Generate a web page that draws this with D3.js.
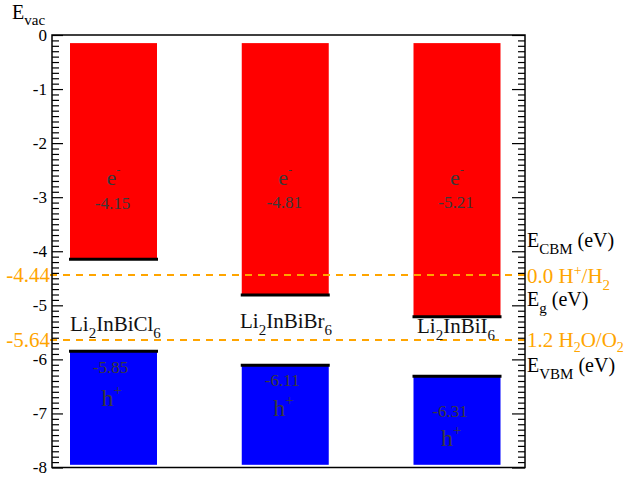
<!DOCTYPE html>
<html lang="en">
<head>
<meta charset="UTF-8">
<title>Band alignment</title>
<style>
  body { margin: 0; background: #fff; }
  .tick line { stroke: #000; stroke-width: 1.2; }
  .domain { display: none; }
</style>
</head>
<body>
<svg id="chart" width="631" height="481" font-family="Liberation Serif"></svg>
<script src="https://d3js.org/d3.v7.min.js"></script>
<script>
// data
const compounds = ['Li2InBiCl6', 'Li2InBiBr6', 'Li2InBiI6'];
const cbm = [-4.15, -4.81, -5.21];
const vbm = [-5.85, -6.11, -6.31];
const barTop = -0.15;
const barBottom = -7.95;
const redoxLevels = [-4.44, -5.64];
const redoxNames = ['0.0 H+/H2', '1.2 H2O/O2'];
const yTicks = [0, -1, -2, -3, -4, -5, -6, -7, -8];

const svg = d3.select('#chart');
const plotL = 52, plotR = 525, plotT = 35, plotB = 467.5;

const y = d3.scaleLinear().domain([-8, 0]).range([plotB, plotT]);
const x = d3.scaleLinear().domain([0, 2]).range([113.5, 457]);
const barW = 87;

const minor = d3.range(0, 81).map(i => -i / 10).filter(v => Math.abs(v - Math.round(v)) > 1e-6);

// red conduction blocks
svg.selectAll('.cb').data(cbm).join('rect')
    .attr('x', (d, i) => x(i) - barW / 2)
    .attr('y', y(barTop))
    .attr('width', barW)
    .attr('height', d => y(d) - y(barTop))
    .attr('fill', '#ff0000');

// blue valence blocks
svg.selectAll('.vb').data(vbm).join('rect')
    .attr('x', (d, i) => x(i) - barW / 2)
    .attr('y', d => y(d))
    .attr('width', barW)
    .attr('height', d => y(barBottom) - y(d))
    .attr('fill', '#0000ff');

// black edge lines
svg.selectAll('.edge').data(cbm.concat(vbm)).join('line')
    .attr('x1', (d, i) => x(i % 3) - barW / 2 - 1)
    .attr('x2', (d, i) => x(i % 3) + barW / 2 + 1)
    .attr('y1', d => y(d))
    .attr('y2', d => y(d))
    .attr('stroke', '#000')
    .attr('stroke-width', 3);

// redox dashed lines
svg.selectAll('.redox').data(redoxLevels).join('line')
    .attr('x1', 50)
    .attr('x2', plotR)
    .attr('y1', d => y(d))
    .attr('y2', d => y(d))
    .attr('stroke', '#ffa500')
    .attr('stroke-width', 2)
    .attr('stroke-dasharray', '7,6');

svg.selectAll('.redoxLbl').data(redoxLevels).join('text')
    .attr('x', 50)
    .attr('y', d => y(d) + 7)
    .attr('text-anchor', 'end')
    .attr('fill', '#ffa500')
    .attr('font-size', 21)
    .text(d => d.toFixed(2));

// frame
svg.append('rect')
    .attr('x', plotL).attr('y', plotT)
    .attr('width', plotR - plotL).attr('height', plotB - plotT)
    .attr('fill', 'none').attr('stroke', '#000').attr('stroke-width', 1.5);

// axes with inward ticks
svg.append('g').attr('transform', `translate(${plotL},0)`)
    .call(d3.axisLeft(y).tickValues(yTicks).tickSizeInner(-11).tickSizeOuter(0).tickPadding(5).tickFormat(d => String(d)))
    .call(g => g.selectAll('text').attr('font-size', 17).attr('fill', '#000'));
svg.append('g').attr('transform', `translate(${plotL},0)`)
    .call(d3.axisLeft(y).tickValues(minor).tickSizeInner(-7).tickSizeOuter(0).tickFormat(''));
svg.append('g').attr('transform', `translate(${plotR},0)`)
    .call(d3.axisRight(y).tickValues(yTicks).tickSizeInner(-13).tickSizeOuter(0).tickFormat(''));
svg.append('g').attr('transform', `translate(${plotR},0)`)
    .call(d3.axisRight(y).tickValues(minor).tickSizeInner(-7).tickSizeOuter(0).tickFormat(''));

// helper for sub/superscript runs: [text, shift, size]
function rich(sel, parts, size) {
    let prev = 0;
    parts.forEach(p => {
        const shift = p[1] || 0;
        sel.append('tspan')
            .attr('dy', shift - prev)
            .attr('font-size', p[2] || size)
            .text(p[0]);
        prev = shift;
    });
}

// E_vac title
rich(svg.append('text').attr('x', 12).attr('y', 19), [['E'], ['vac', 6, 15]], 20);

// compound names
const nameParts = [
    [['Li'], ['2', 7, 15], ['InBiCl'], ['6', 7, 15]],
    [['Li'], ['2', 7, 15], ['InBiBr'], ['6', 7, 15]],
    [['Li'], ['2', 7, 15], ['InBiI'], ['6', 7, 15]]
];
const nameX = [70, 240, 417];
const nameY = [331, 328, 333];
compounds.forEach((c, i) => {
    rich(svg.append('text').attr('x', nameX[i]).attr('y', nameY[i]).attr('fill', '#111'), nameParts[i], 21);
});

// labels inside bars
const cbLabelY = [209, 208, 208];
const vbValueY = [373, 386, 417];
const hY = [406, 416, 446];
const inner = '#3a3a3a';
cbm.forEach((d, i) => {
    const g = svg.append('g').attr('fill', inner);
    rich(g.append('text').attr('x', x(i) - 7).attr('y', 185), [['e'], ['-', -11, 12]], 22);
    g.append('text').attr('x', x(i) - 1).attr('y', cbLabelY[i]).attr('text-anchor', 'middle')
        .attr('font-size', 17).text(d.toFixed(2));
});
vbm.forEach((d, i) => {
    const g = svg.append('g').attr('fill', inner);
    g.append('text').attr('x', x(i) - 3 - (i === 2 ? 4 : 0)).attr('y', vbValueY[i]).attr('text-anchor', 'middle')
        .attr('font-size', 17).text(d.toFixed(2));
    rich(g.append('text').attr('x', x(i) - 12 - (i === 2 ? 4 : 0)).attr('y', hY[i]), [['h'], ['+', -11, 15]], 24);
});

// right side legend texts
rich(svg.append('text').attr('x', 527).attr('y', 247), [['E'], ['CBM', 7, 15], [' (eV)', 0, 20]], 20);
rich(svg.append('text').attr('x', 527).attr('y', 283).attr('fill', '#ffa500'),
    [['0.0 H'], ['+', -8, 14], ['/H', 0, 21], ['2', 7, 15]], 21);
rich(svg.append('text').attr('x', 527).attr('y', 306), [['E'], ['g', 7, 15], [' (eV)', 0, 20]], 20);
rich(svg.append('text').attr('x', 527).attr('y', 347).attr('fill', '#ffa500'),
    [['1.2 H'], ['2', 5, 14], ['O/O', 0, 21], ['2', 5, 14]], 21);
rich(svg.append('text').attr('x', 527).attr('y', 372), [['E'], ['VBM', 7, 15], [' (eV)', 0, 20]], 20);

// serif everywhere (axis groups set their own family)
svg.selectAll('text').attr('font-family', 'Liberation Serif');
</script>
</body>
</html>
